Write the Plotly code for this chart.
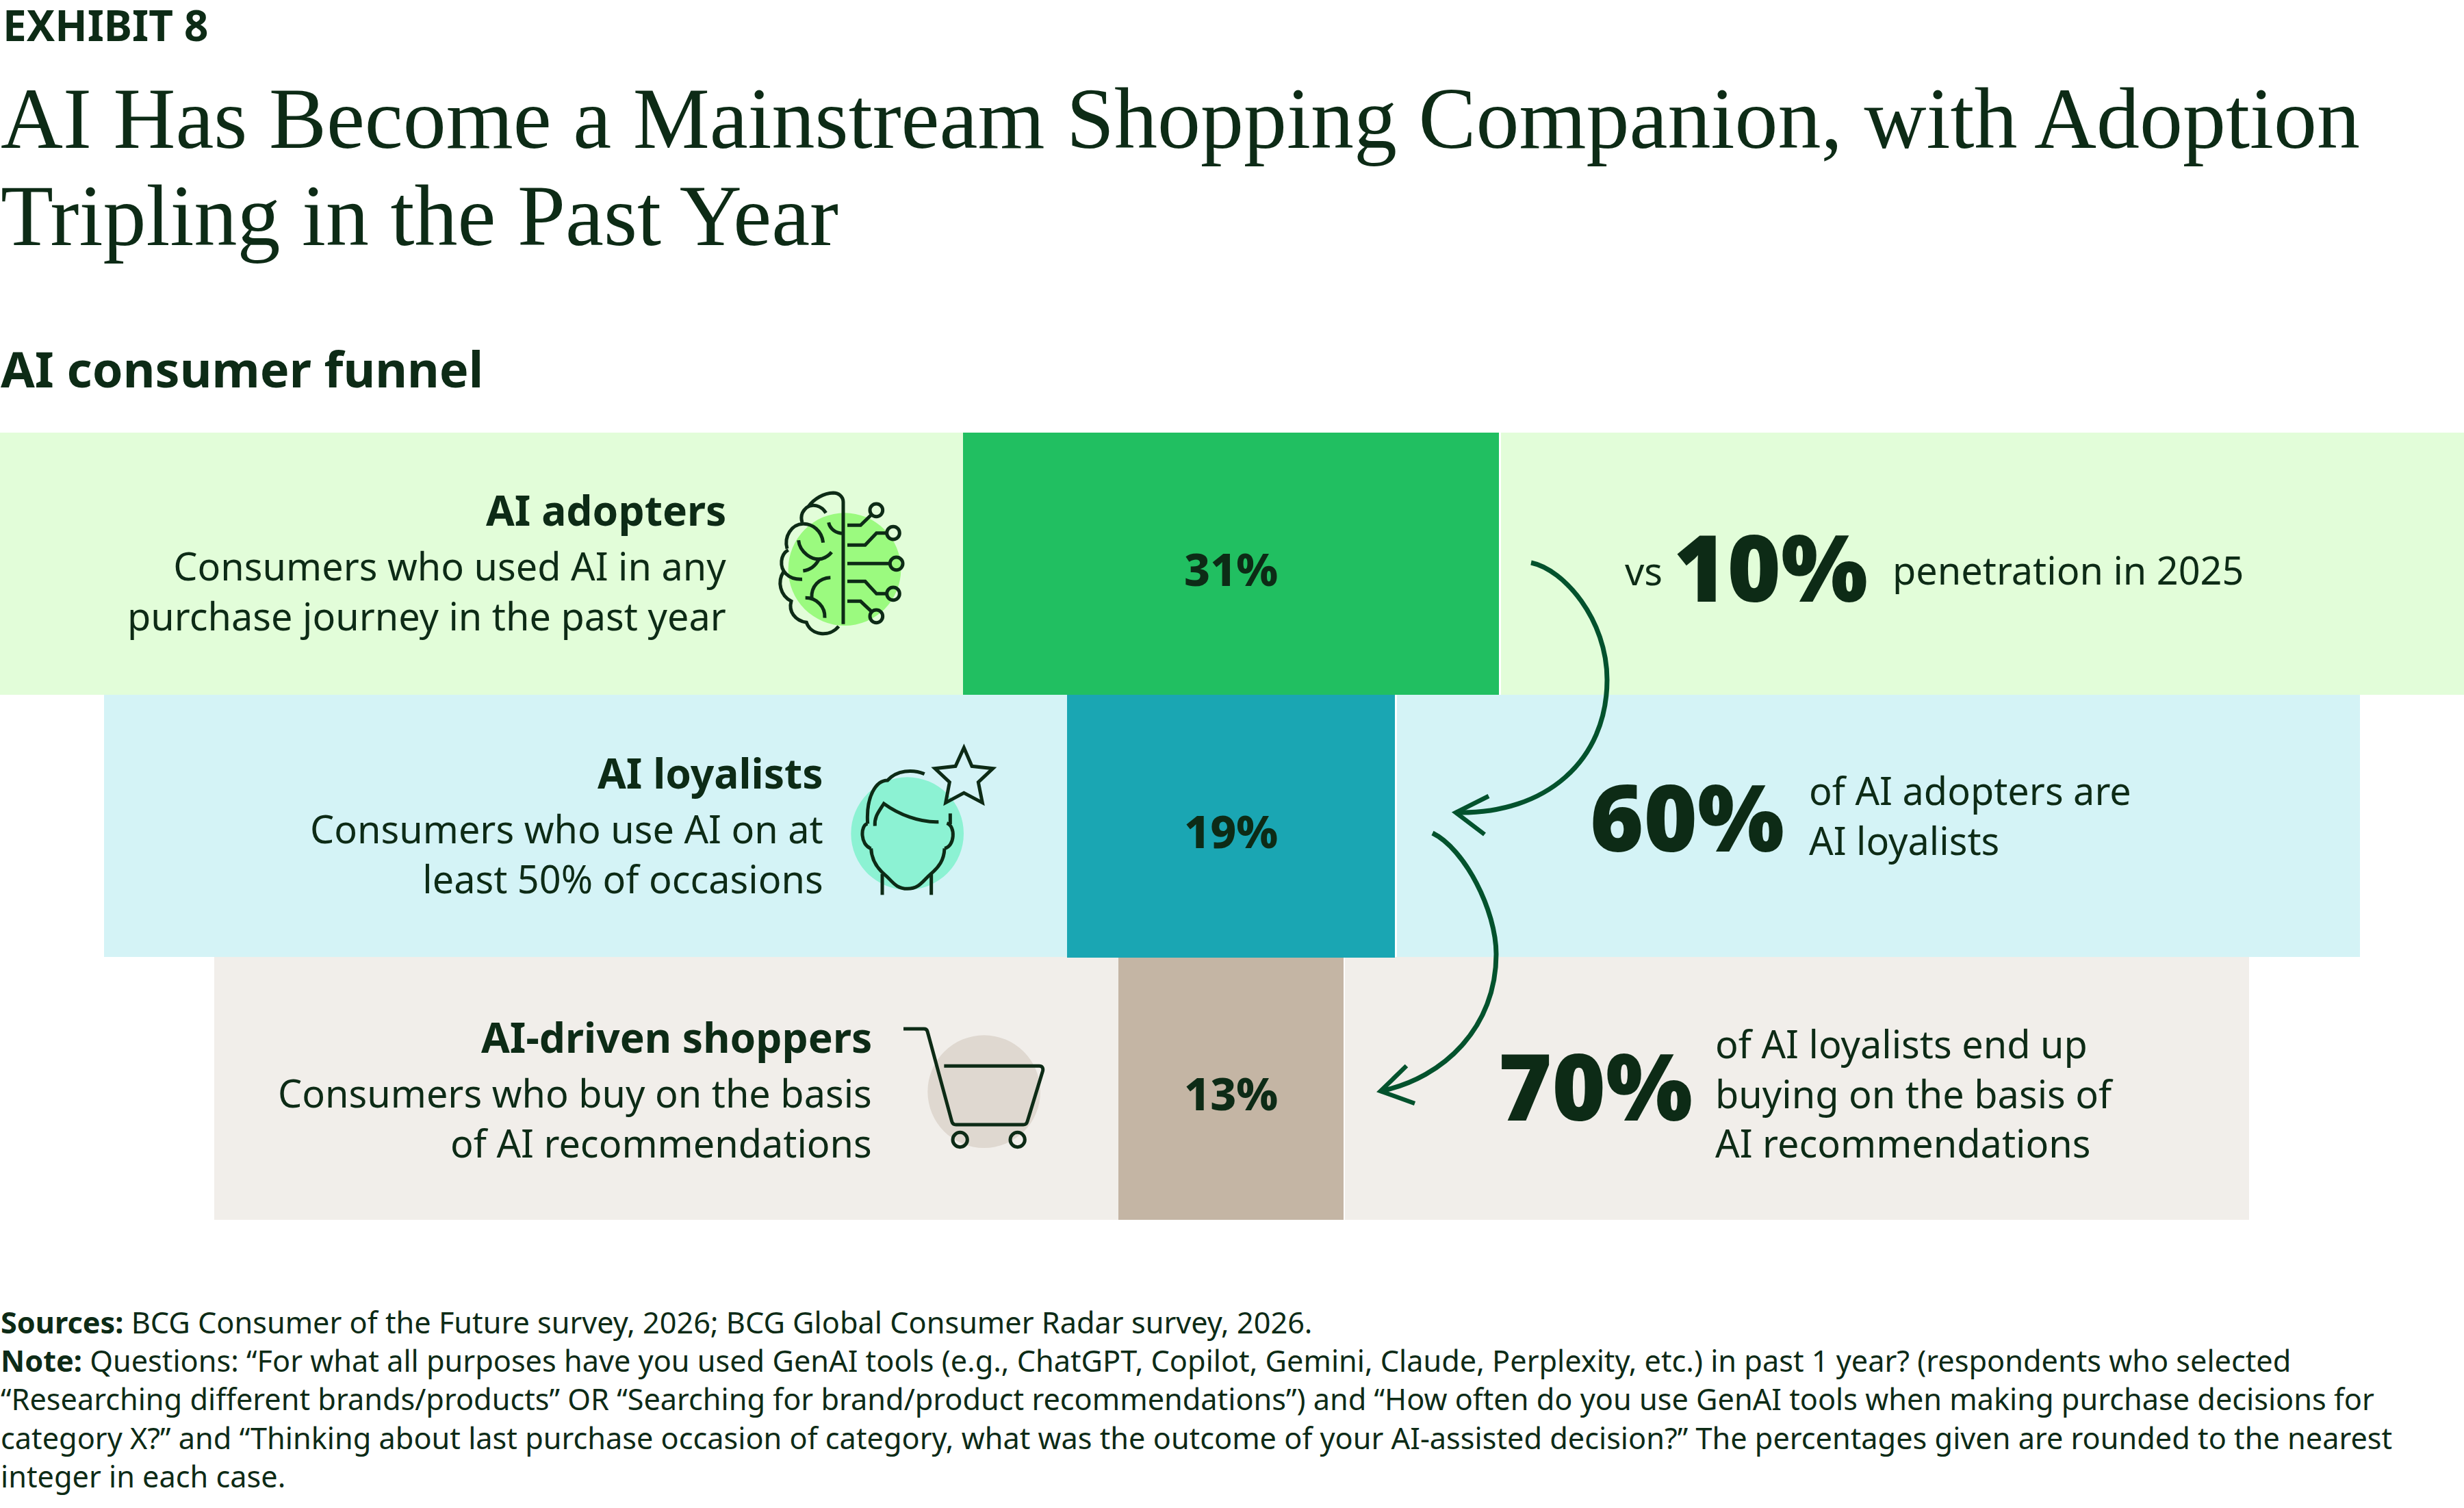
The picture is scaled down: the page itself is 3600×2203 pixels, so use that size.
import re
import plotly.graph_objects as go

W, H = 3600, 2203
INK = "#0D2B16"
ARROW = "#03522D"
SANS = "Noto Sans"
SERIF = "Liberation Serif"

# funnel data
tiers = ["AI adopters", "AI loyalists", "AI-driven shoppers"]
descriptions = [
    "Consumers who used AI in any<br>purchase journey in the past year",
    "Consumers who use AI on at<br>least 50% of occasions",
    "Consumers who buy on the basis<br>of AI recommendations",
]
funnel_values = [31, 19, 13]
bar_colors = ["#21BF61", "#1AA6B3", "#C4B5A4"]
band_colors = ["#E2FDD9", "#D4F3F6", "#F1EEEA"]

callout_values = ["10%", "60%", "70%"]
callout_notes = [
    "penetration in 2025",
    "of AI adopters are<br>AI loyalists",
    "of AI loyalists end up<br>buying on the basis of<br>AI recommendations",
]

footer = (
    "<b>Sources:</b> BCG Consumer of the Future survey, 2026; BCG Global Consumer Radar survey, 2026.<br>"
    "<b>Note:</b> Questions: “For what all purposes have you used GenAI tools (e.g., ChatGPT, Copilot, Gemini, Claude, Perplexity, etc.) in past 1 year? (respondents who selected<br>"
    "“Researching different brands/products” OR “Searching for brand/product recommendations”) and “How often do you use GenAI tools when making purchase decisions for<br>"
    "category X?” and “Thinking about last purchase occasion of category, what was the outcome of your AI-assisted decision?” The percentages given are rounded to the nearest<br>"
    "integer in each case."
)


def px(x):
    return x / W


def py(y):
    return 1 - y / H


def to_paper(path, x0=0, y0=0, k=1.0):
    # every pair of numbers in the path is x,y in the given frame
    nums = iter(re.findall(r"[A-Za-z]|-?[\d.]+", path))
    out = []
    for tok in nums:
        if tok.isalpha():
            out.append(tok)
        else:
            x = x0 + float(tok) * k
            y = y0 + float(next(nums)) * k
            out.append(f"{px(x):.5f},{py(y):.5f}")
    return " ".join(out)


fig = go.Figure()

fig.add_trace(go.Bar(
    y=tiers,
    x=funnel_values,
    base=[-v / 2 for v in funnel_values],
    orientation="h",
    marker=dict(color=bar_colors, line=dict(width=0)),
    hoverinfo="skip",
))

# values sit a little under the middle of each bar
for tier, v in zip(tiers, funnel_values):
    fig.add_annotation(x=0, y=tier, text=f"{v}%", showarrow=False, yshift=-6,
                       font=dict(family=SANS, size=66, color=INK, weight=800))


def text(x, y, s, size, anchor="left", weight=400, family=SANS, color=INK):
    fig.add_annotation(
        xref="paper", yref="paper", x=px(x), y=py(y), text=s,
        xanchor=anchor, yanchor="middle", align=anchor, showarrow=False,
        borderpad=0, font=dict(family=family, size=size, color=color, weight=weight),
    )


def rect(x0, y0, x1, y1, color):
    fig.add_shape(type="rect", xref="paper", yref="paper", layer="below",
                  x0=px(x0), x1=px(x1), y0=py(y0), y1=py(y1),
                  fillcolor=color, line_width=0)


def stroke(path, x0=0, y0=0, k=1.0, width=5, color=INK):
    fig.add_shape(type="path", xref="paper", yref="paper",
                  path=to_paper(path, x0, y0, k), line=dict(color=color, width=width))


def circle(cx, cy, r, x0=0, y0=0, k=1.0, fill=None, width=5):
    fig.add_shape(type="circle", xref="paper", yref="paper",
                  x0=px(x0 + (cx - r) * k), x1=px(x0 + (cx + r) * k),
                  y0=py(y0 + (cy - r) * k), y1=py(y0 + (cy + r) * k),
                  fillcolor=fill if fill else "rgba(0,0,0,0)",
                  line=dict(color=INK, width=width) if width else dict(width=0))


# bands sit either side of the bars, with a thin white gap on the right
band_x = [(0, 1407, 2193, 3600), (152, 1559, 2041, 3448), (313, 1635, 1965, 3286)]
band_y = [(632, 1015), (1015, 1398), (1398, 1782)]
for (a, b, c, d), (t, u), col in zip(band_x, band_y, band_colors):
    rect(a, t, b, u, col)
    rect(c, t, d, u, col)

# header
text(3, 36, "EXHIBIT 8", 62, weight=700)
text(0, 174, "AI Has Become a Mainstream Shopping Companion, with Adoption", 126, family=SERIF)
text(0, 315, "Tripling in the Past Year", 126, family=SERIF)
text(0, 538, "AI consumer funnel", 72, weight=700)

# left labels
label_right = [1062, 1204, 1275]
label_y = [(744, 862), (1128, 1246), (1514, 1632)]
for tier, desc, xr, (y1, y2) in zip(tiers, descriptions, label_right, label_y):
    text(xr, y1, tier, 60.5, anchor="right", weight=700)
    text(xr, y2, desc, 55.8, anchor="right")

# right callouts
text(2373, 833, "vs", 55.8)
text(2444, 827, callout_values[0], 134, weight=900)
text(2764, 832, callout_notes[0], 55.8)
text(2322, 1192, callout_values[1], 134, weight=900)
text(2642, 1190, callout_notes[1], 55.8)
text(2188, 1585, callout_values[2], 134, weight=900)
text(2505, 1596, callout_notes[2], 55.8)

text(0, 2044, footer, 43.25)

# brain icon
bx, by, k = 1080, 680, 1 / 3
circle(462, 455, 247, bx, by, k, fill="#9BFA7F", width=0)
for p in [
    "M456,695 L456,160 C456,135 435,120 412,120 C370,122 330,145 305,178",
    "M380,208 C360,175 320,165 295,185 C272,205 268,225 276,250",
    "M368,338 C362,285 320,255 280,256 C230,258 195,310 210,365",
    "M215,370 C180,390 175,445 205,475 C225,495 250,500 276,499",
    "M195,465 C165,510 180,570 228,595 C215,640 245,680 295,688 C315,745 395,755 436,705",
    "M260,328 C265,380 320,420 365,408 C380,403 393,395 405,380",
    "M350,410 C335,440 310,458 280,462",
    "M392,250 C398,280 425,298 456,298",
    "M400,491 C350,493 315,530 318,580",
    "M290,580 C340,580 378,620 375,668",
    "M474,262 L532,262 L580,215",
    "M474,349 L552,349 L602,296 L645,296",
    "M474,430 L660,430",
    "M474,508 L552,508 L602,562 L645,562",
    "M474,595 L532,595 L580,640",
]:
    stroke(p, bx, by, k)
for cx, cy in [(601, 196), (675, 296), (689, 430), (675, 562), (601, 661)]:
    circle(cx, cy, 28, bx, by, k)

# face icon
fx, fy = 1200, 1060
circle(377, 473, 247, fx, fy, k, fill="#8CF2D3", width=0)
for p in [
    "M452,212 C400,190 330,195 290,240 C240,240 195,310 203,430",
    "M203,430 C170,435 170,525 218,538",
    "M218,538 C220,590 250,630 280,655 C310,680 325,715 378,715 C430,715 445,680 480,650 C515,620 538,590 540,538",
    "M540,538 C585,530 590,440 550,428",
    "M565,385 L565,432",
    "M235,440 C232,400 250,380 274,342 C340,390 430,425 514,422",
    "M267,650 L267,742",
    "M482,650 L482,742",
    "M625,97 L660,178 L752,188 L688,248 L706,338 L625,295 L545,338 L562,248 L498,188 L588,178 Z",
]:
    stroke(p, fx, fy, k)

# cart icon
cx0, cy0 = 1300, 1460
circle(413, 404, 247, cx0, cy0, k, fill="#DFD8D0", width=0)
stroke("M60,129 L150,129 C160,129 163,133 165,140 L272,535 C275,545 280,549 290,549 L585,549 "
       "C595,549 600,545 603,535 L670,315 C674,300 668,292 655,292 L238,292", cx0, cy0, k)
circle(308, 615, 32, cx0, cy0, k)
circle(560, 615, 32, cx0, cy0, k)

# arrows between the tiers
stroke("M2237,822 C2285,832 2348,905 2348,993 C2348,1110 2260,1190 2127,1187", width=7, color=ARROW)
stroke("M2175,1163 L2127,1187 L2169,1219", width=6.5, color=ARROW)
stroke("M2093,1217 C2140,1240 2186,1330 2186,1394 C2186,1500 2110,1575 2017,1594", width=7, color=ARROW)
stroke("M2055,1557 L2017,1594 L2067,1612", width=6.5, color=ARROW)

fig.update_layout(
    width=W, height=H,
    margin=dict(l=0, r=0, t=0, b=0),
    paper_bgcolor="white", plot_bgcolor="rgba(0,0,0,0)",
    showlegend=False, bargap=0,
    xaxis=dict(visible=False, range=[-71.2, 71.32], fixedrange=True),
    yaxis=dict(visible=False, range=[3.598, -2.149], fixedrange=True),
)

fig.write_html("out.html", config={"displayModeBar": False},
               post_script="document.body.style.margin = '0';")
